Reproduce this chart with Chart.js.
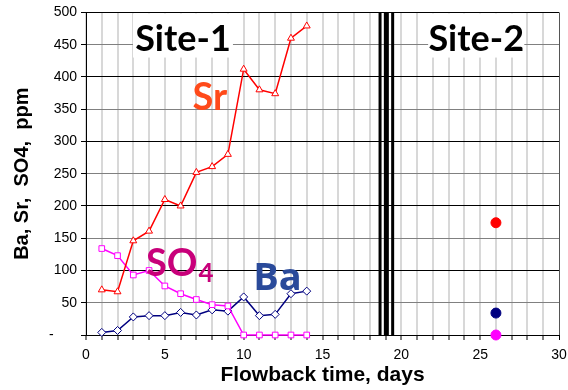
<!DOCTYPE html>
<html>
<head>
<meta charset="utf-8">
<script src="https://cdn.jsdelivr.net/npm/chart.js@4.4.0/dist/chart.umd.min.js"></script>
<style>
  html, body { margin: 0; padding: 0; background: #fff; }
  #wrap { width: 568px; height: 390px; }
</style>
</head>
<body>
<div id="wrap"><canvas id="myChart" width="568" height="390"></canvas></div>
<script>
// Site-1 flowback samples
const days = [1, 2, 3, 4, 5, 6, 7, 8, 9, 10, 11, 12, 13, 14]
const sr = [70, 67, 146, 161, 210, 200, 252, 261, 280, 412, 380, 374, 460, 479]
const so4 = [134, 123, 93, 100, 76, 64, 55, 47, 45, 0, 0, 0, 0, 0]
const ba = [4, 7, 28, 30, 30, 35, 31, 39, 37, 59, 30, 32, 64, 68]

// Site-2 single sample
const site2Day = 26
const site2Sr = 174
const site2Ba = 34
const site2So4 = 0

// separator between the two sites (thin, thick, thin)
const breakX = [18.65, 19.05, 19.45]
const breakW = [3, 5, 3]

const yTicks = [0, 50, 100, 150, 200, 250, 300, 350, 400, 450, 500]

const toXY = (xs, ys) => xs.map((x, i) => ({ x: x, y: ys[i] }))

const breakSets = breakX.map((x, i) => ({
    data: [{ x: x, y: 0 }, { x: x, y: 500 }],
    showLine: true,
    borderColor: '#000',
    borderWidth: breakW[i],
    pointRadius: 0,
    order: 10
}))

// labels written on the plot
const labelPlugin = {
    id: 'labels',
    beforeDatasetsDraw(chart) {
        const { ctx } = chart
        const xs = chart.scales.x
        const ys = chart.scales.y
        ctx.save()
        // white boxes for the site names
        const boxes = [[2.98, 9.32, 'Site-1', 6.15], [21.7, 27.8, 'Site-2', 24.75]]
        boxes.forEach(b => {
            const x0 = xs.getPixelForValue(b[0])
            const x1 = xs.getPixelForValue(b[1])
            const y0 = ys.getPixelForValue(500) + 1
            const y1 = ys.getPixelForValue(430)
            ctx.fillStyle = '#fff'
            ctx.fillRect(x0, y0, x1 - x0, y1 - y0)
            ctx.fillStyle = '#000'
            ctx.font = 'bold 36px Lato, "Open Sans", sans-serif'
            ctx.textAlign = 'center'
            ctx.textBaseline = 'alphabetic'
            ctx.fillText(b[2], xs.getPixelForValue(b[3]), ys.getPixelForValue(440))
        })
        ctx.restore()
    },
    afterDatasetsDraw(chart) {
        const { ctx } = chart
        const xs = chart.scales.x
        const ys = chart.scales.y
        ctx.save()
        ctx.textBaseline = 'alphabetic'
        ctx.textAlign = 'left'
        ctx.font = 'bold 38px Lato, "Open Sans", sans-serif'
        ctx.fillStyle = '#FF4A1A'
        ctx.fillText('Sr', xs.getPixelForValue(6.75), ys.getPixelForValue(348))

        ctx.fillStyle = '#C8007A'
        const sx = xs.getPixelForValue(3.8)
        const sy = ys.getPixelForValue(91)
        ctx.fillText('SO', sx, sy)
        const w = ctx.measureText('SO').width
        ctx.font = 'bold 26px Lato, "Open Sans", sans-serif'
        ctx.fillText('4', sx + w + 1, sy + 6)

        ctx.font = 'bold 38px "Open Sans", Lato, sans-serif'
        ctx.fillStyle = '#2A4A9A'
        ctx.fillText('Ba', xs.getPixelForValue(10.6), ys.getPixelForValue(70))
        ctx.restore()
    }
}

new Chart(document.getElementById('myChart').getContext('2d'), {
    type: 'scatter',
    data: {
        datasets: [
            {
                label: 'Sr',
                data: toXY(days, sr),
                showLine: true,
                borderColor: '#FF0000',
                borderWidth: 1.5,
                pointStyle: 'triangle',
                pointRadius: 4,
                pointBorderColor: '#FF0000',
                pointBackgroundColor: '#fff',
                pointBorderWidth: 1
            },
            {
                label: 'SO4',
                data: toXY(days, so4),
                showLine: true,
                borderColor: '#FF00FF',
                borderWidth: 1.5,
                pointStyle: 'rect',
                pointRadius: 4,
                pointBorderColor: '#FF00FF',
                pointBackgroundColor: '#fff',
                pointBorderWidth: 1
            },
            {
                label: 'Ba',
                data: toXY(days, ba),
                showLine: true,
                borderColor: '#000080',
                borderWidth: 1.5,
                pointStyle: 'rectRot',
                pointRadius: 4,
                pointBorderColor: '#000080',
                pointBackgroundColor: '#fff',
                pointBorderWidth: 1
            },
            { data: [{ x: site2Day, y: site2Sr }], pointRadius: 5, backgroundColor: '#FF0000', borderColor: '#FF0000' },
            { data: [{ x: site2Day, y: site2Ba }], pointRadius: 5, backgroundColor: '#000080', borderColor: '#000080' },
            { data: [{ x: site2Day, y: site2So4 }], pointRadius: 5, backgroundColor: '#FF00FF', borderColor: '#FF00FF' },
            ...breakSets
        ]
    },
    options: {
        responsive: false,
        animation: false,
        clip: false,
        layout: { padding: { top: 7, right: 0, left: 0, bottom: 0 } },
        plugins: {
            legend: { display: false },
            tooltip: { enabled: false }
        },
        scales: {
            x: {
                type: 'linear',
                min: 0,
                max: 30,
                afterFit: s => { s.height = 55; s.paddingRight = 9 },
                ticks: {
                    stepSize: 1,
                    autoSkip: false,
                    maxRotation: 0,
                    color: '#000',
                    font: { family: 'Arial, "Liberation Sans", sans-serif', size: 14 },
                    padding: 7,
                    callback: v => (v % 5 === 0 ? v : '')
                },
                grid: {
                    color: c => (c.tick && c.tick.value === 30 ? '#555' : '#d8d8d8'),
                    lineWidth: c => (c.tick && c.tick.value === 30 ? 1 : 2),
                    tickColor: '#000',
                    tickLength: 5,
                    tickWidth: 1
                },
                border: { color: '#000', width: 1 },
                title: {
                    display: true,
                    text: 'Flowback time, days',
                    color: '#000',
                    font: { family: 'Arial, "Liberation Sans", sans-serif', size: 21, weight: 'bold' },
                    padding: { top: 0, bottom: 2 }
                }
            },
            y: {
                min: 0,
                max: 500,
                afterFit: s => { s.width = 86 },
                afterBuildTicks: s => { s.ticks = yTicks.map(v => ({ value: v })) },
                ticks: {
                    color: '#000',
                    font: { family: 'Arial, "Liberation Sans", sans-serif', size: 14 },
                    padding: 4,
                    callback: v => (v === 0 ? '-      ' : v)
                },
                grid: {
                    color: c => (c.tick && c.tick.value % 100 === 0 ? '#000' : '#808080'),
                    lineWidth: 1,
                    tickColor: '#000',
                    tickLength: 5
                },
                border: { color: '#000', width: 1 },
                title: {
                    display: true,
                    text: 'Ba, Sr,  SO4,  ppm',
                    color: '#000',
                    font: { family: 'Arial, "Liberation Sans", sans-serif', size: 20, weight: 'bold' },
                    padding: { top: 10, bottom: 6 }
                }
            }
        }
    },
    plugins: [labelPlugin]
})
</script>
</body>
</html>
